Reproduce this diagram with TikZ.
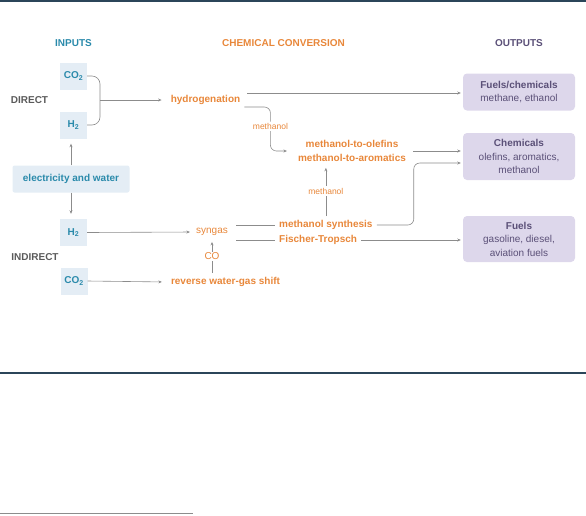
\documentclass[tikz,border=0pt]{standalone}
\usepackage{fontspec}
\setmainfont{Liberation Sans}
\usetikzlibrary{arrows.meta, positioning}
\definecolor{InTeal}{HTML}{2A8AAB}
\definecolor{InFill}{HTML}{E4EDF5}
\definecolor{ConvOrange}{HTML}{E8873A}
\definecolor{OutPurple}{HTML}{5B5078}
\definecolor{OutFill}{HTML}{DDD7EB}
\definecolor{SideGray}{HTML}{5A5A5A}
\definecolor{LineGray}{HTML}{8C8C8C}
\definecolor{RuleNavy}{HTML}{2B4559}

\begin{document}
\begin{tikzpicture}[x=1pt, y=-1pt,
    inbox/.style={fill=InFill, text=InTeal, font={\fontsize{10}{14}\selectfont\bfseries},
                  minimum width=27pt, minimum height=27pt, inner sep=0pt},
    proc/.style={text=ConvOrange, font={\fontsize{10}{14}\selectfont\bfseries}, inner sep=4pt, align=center},
    gas/.style={text=ConvOrange, font={\fontsize{10}{14}\selectfont}, inner sep=4pt},
    small/.style={text=ConvOrange, font={\fontsize{8.5}{10}\selectfont}, fill=white, inner sep=1.5pt},
    outbox/.style={fill=OutFill, text=OutPurple, font={\fontsize{10}{13.5}\selectfont},
                   rounded corners=4pt, minimum width=112pt, align=center},
    route/.style={draw=LineGray, line width=0.6pt},
    arr/.style={route, -{Stealth[length=3.5pt, width=3pt]}, shorten >=2pt}]
  \useasboundingbox (0,0) rectangle (586,515);
  % rules
  \draw[RuleNavy, line width=1.4pt] (0,1) -- (586,1);
  \draw[RuleNavy, line width=1.2pt] (0,373) -- (586,373);
  \draw[LineGray, line width=0.8pt] (0,513) -- (193,513);

  % column heads
  \node[text=InTeal, font={\fontsize{10}{14}\selectfont\bfseries}] (hin) at (73.5,43) {INPUTS};
  \node[text=ConvOrange, font={\fontsize{10}{14}\selectfont\bfseries}] (hconv) at (283.5,43) {CHEMICAL CONVERSION};
  \node[text=OutPurple, font={\fontsize{10}{14}\selectfont\bfseries}] (hout) at (519,43) {OUTPUTS};

  % inputs
  \node[inbox] (co2a) at (73.5,76) {CO\textsubscript{2}};
  \node[inbox] (h2a) at (73.5,125) {H\textsubscript{2}};
  \node[inbox, minimum width=117pt, rounded corners=2pt] (elec) at (71,179) {electricity and water};
  \node[inbox] (h2b) at (73.5,232.5) {H\textsubscript{2}};
  \node[inbox] (co2b) at (74,281) {CO\textsubscript{2}};
  \node[text=SideGray, font={\fontsize{10}{14}\selectfont\bfseries}] (direct) at (29.5,100) {DIRECT};
  \node[text=SideGray, font={\fontsize{10}{14}\selectfont\bfseries}] (indirect) at (35,257) {INDIRECT};
  \coordinate (join) at (100,100);

  % conversion
  \node[proc] (hyd) at (205.5,100) {hydrogenation};
  \node[proc] (mto) at (352,151) {methanol-to-olefins\\methanol-to-aromatics};
  \node[gas] (syngas) at (212,232) {syngas};
  \node[proc, anchor=west] (msyn) at (275,225) {methanol synthesis};
  \node[proc, anchor=west] (ft) at (275,240) {Fischer-Tropsch};
  \node[proc] (rwgs) at (225.5,282) {reverse water-gas shift};

  % outputs
  \node[outbox, minimum height=37pt] (fc) at (519,92) {\textbf{Fuels/chemicals}\\methane, ethanol};
  \node[outbox, minimum height=47pt] (chem) at (519,156.5) {\textbf{Chemicals}\\olefins, aromatics,\\methanol};
  \node[outbox, minimum height=46pt] (fuel) at (519,239) {\textbf{Fuels}\\gasoline, diesel,\\aviation fuels};

  % connectors
  \draw[route, rounded corners=8pt] (co2a.east) -| (join) |- (h2a.east);
  \draw[arr, shorten >=5pt] (join) -- (hyd.west);
  \draw[arr, shorten >=5pt] (elec.north) -- (elec.north |- h2a.south);
  \draw[arr, shorten >=5pt] (elec.south) -- (elec.south |- h2b.north);
  \draw[arr] (h2b.east) -- (syngas.west);
  \draw[arr, shorten >=5pt] (co2b.east) -- (rwgs.west);
  \draw[arr, shorten <=3pt] ([yshift=7pt]hyd.east) -- ([yshift=7pt]hyd.east -| fc.west);
  \draw[arr, rounded corners=6pt, shorten >=7pt] ([yshift=-7pt]hyd.east) -- ++(26,0) |- (mto.west)
    node[small, pos=0.22] {methanol};
  \draw[arr, shorten <=3pt] (mto.east) -- (mto.east -| chem.west);
  \draw[arr] (rwgs.north -| syngas.south) -- (syngas.south) node[gas, midway, fill=white, inner sep=1pt] {CO};
  \draw[route, shorten <=4pt] (syngas.east |- msyn.west) -- (msyn.west);
  \draw[route, shorten <=4pt] (syngas.east |- ft.west) -- (ft.west);
  \draw[arr] (msyn.north) -- (msyn.north |- mto.south) node[small, midway] {methanol};
  \draw[arr, rounded corners=6pt] (msyn.east) -- ++(37,0) |- ([yshift=-6.5pt]chem.west);
  \draw[arr] (ft.east) -- (ft.east -| fuel.west);
\end{tikzpicture}
\end{document}
